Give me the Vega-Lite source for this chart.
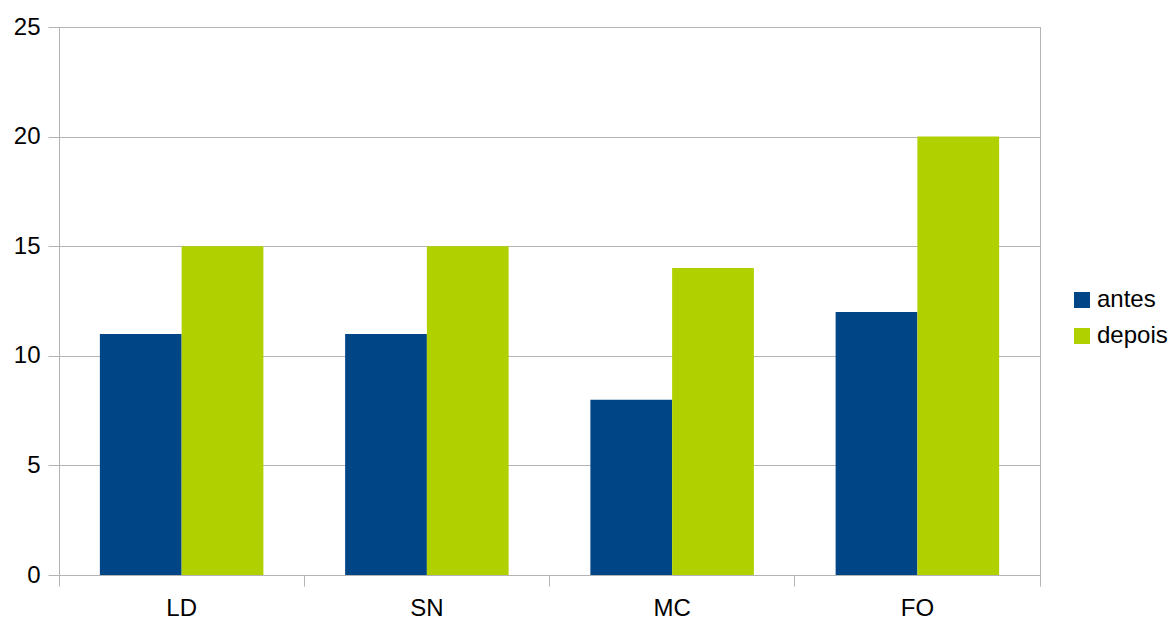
{
  "$schema": "https://vega.github.io/schema/vega-lite/v6.json",
  "width": 981,
  "height": 548,
  "autosize": {"type": "none"},
  "padding": {"left": 59, "top": 27, "right": 133, "bottom": 44},
  "background": "white",
  "config": {
    "font": "Liberation Sans",
    "view": {"stroke": "#b3b3b3", "strokeWidth": 1}
  },
  "data": {
    "values": [
      {"cat": "LD", "serie": "antes", "valor": 11},
      {"cat": "LD", "serie": "depois", "valor": 15},
      {"cat": "SN", "serie": "antes", "valor": 11},
      {"cat": "SN", "serie": "depois", "valor": 15},
      {"cat": "MC", "serie": "antes", "valor": 8},
      {"cat": "MC", "serie": "depois", "valor": 14},
      {"cat": "FO", "serie": "antes", "valor": 12},
      {"cat": "FO", "serie": "depois", "valor": 20}
    ]
  },
  "mark": {"type": "bar"},
  "encoding": {
    "x": {
      "field": "cat",
      "type": "nominal",
      "sort": ["LD", "SN", "MC", "FO"],
      "scale": {"paddingInner": 0, "paddingOuter": 0},
      "axis": {
        "title": null,
        "labelAngle": 0,
        "labelFontSize": 24,
        "labelColor": "#000000",
        "labelPadding": 10,
        "bandPosition": 1,
        "tickExtra": true,
        "tickSize": 11,
        "tickColor": "#b3b3b3",
        "domainColor": "#b3b3b3",
        "grid": false
      }
    },
    "xOffset": {
      "field": "serie",
      "type": "nominal",
      "sort": ["antes", "depois"],
      "scale": {"paddingInner": 0, "paddingOuter": 0.5}
    },
    "y": {
      "field": "valor",
      "type": "quantitative",
      "scale": {"domain": [0, 25], "nice": false},
      "axis": {
        "title": null,
        "values": [0, 5, 10, 15, 20, 25],
        "labelFontSize": 24,
        "labelColor": "#000000",
        "labelPadding": 8,
        "tickSize": 11,
        "tickColor": "#b3b3b3",
        "domainColor": "#b3b3b3",
        "gridColor": "#b3b3b3",
        "grid": true
      }
    },
    "color": {
      "field": "serie",
      "type": "nominal",
      "sort": ["antes", "depois"],
      "scale": {"domain": ["antes", "depois"], "range": ["#004586", "#b0d000"]},
      "legend": {
        "title": null,
        "orient": "none",
        "legendX": 1011,
        "legendY": 261,
        "symbolType": "square",
        "symbolSize": 256,
        "symbolStrokeWidth": 0,
        "labelFontSize": 24,
        "labelColor": "#000000",
        "rowPadding": 12,
        "labelOffset": 3
      }
    }
  }
}
